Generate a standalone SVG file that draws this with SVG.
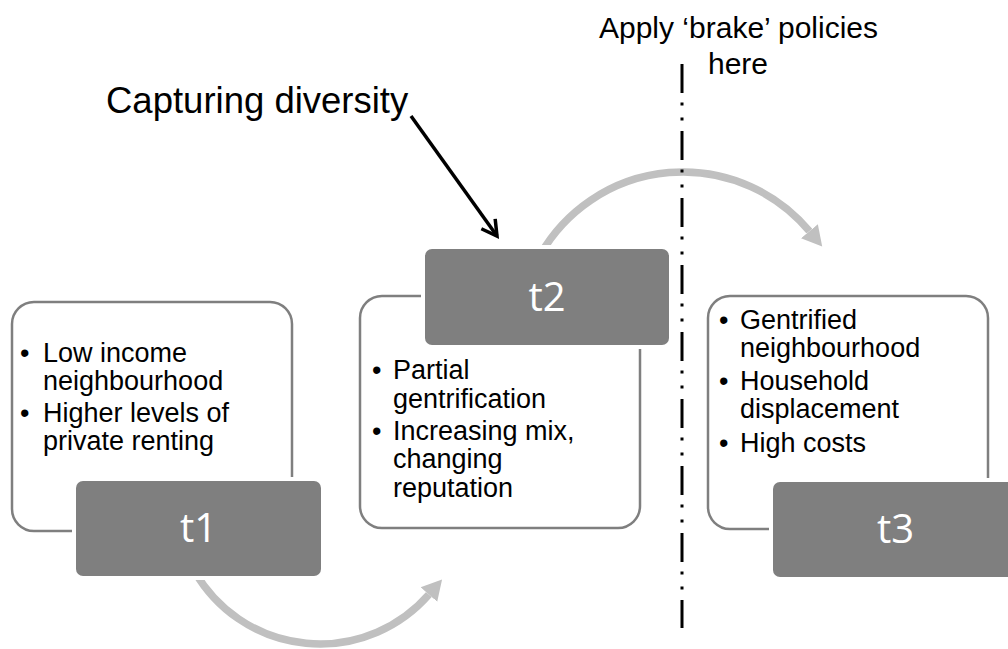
<svg xmlns="http://www.w3.org/2000/svg" width="1008" height="649" viewBox="0 0 1008 649">
<style>
.frame{fill:#fff;stroke:#7f7f7f;stroke-width:2.5}
.tbox{fill:#7f7f7f;stroke:#fff;stroke-width:8;paint-order:stroke}
.lbl{font-family:"Open Sans","Liberation Sans",sans-serif;font-size:40px;fill:#fff;text-anchor:middle}
.txt{font-family:"Liberation Sans",Arial,sans-serif;font-size:27px;fill:#000}
.big{font-family:"Liberation Sans",Arial,sans-serif;font-size:36.5px;fill:#000}
.mid{font-family:"Liberation Sans",Arial,sans-serif;font-size:30px;fill:#000;text-anchor:middle}
.arc{fill:none;stroke:#c0c0c0;stroke-width:7.5}
</style>
<defs>
<marker id="grayHead" markerUnits="userSpaceOnUse" viewBox="0 -12 22 24" refX="0" refY="0" markerWidth="22" markerHeight="24" orient="auto">
<path d="M0,-11 L20,0 L0,11 Z" fill="#c0c0c0"/>
</marker>
<marker id="blackHead" markerUnits="userSpaceOnUse" viewBox="-20 -12 24 24" refX="0" refY="0" markerWidth="24" markerHeight="24" orient="auto">
<path d="M-15,-8.5 L0,0 L-15,8.5" fill="none" stroke="#000" stroke-width="3.5"/>
</marker>
</defs>

<g id="connectors">
<path class="arc" d="M194.9,571.8 A144.5,144.5 0 0 0 428.9,594.5" marker-end="url(#grayHead)"/>
<path class="arc" d="M540.5,254.3 A164.5,164.5 0 0 1 809.4,231.2" marker-end="url(#grayHead)"/>
<path d="M411,116 L497,236" fill="none" stroke="#000" stroke-width="3.5" marker-end="url(#blackHead)"/>
<line x1="682" y1="64" x2="682" y2="628" stroke="#000" stroke-width="3" stroke-dasharray="29 9.5 3 12 3 10.5"/>
</g>

<g id="t1">
<rect class="frame" x="12" y="302" width="280" height="229" rx="22"/>
<text class="txt" x="20" y="362">•</text>
<text class="txt" x="43" y="362">Low income</text>
<text class="txt" x="43" y="390">neighbourhood</text>
<text class="txt" x="20" y="422">•</text>
<text class="txt" x="43" y="422">Higher levels of</text>
<text class="txt" x="43" y="450">private renting</text>
<rect class="tbox" x="76" y="481" width="245" height="95" rx="7"/>
<text class="lbl" x="198.5" y="542">t1</text>
</g>

<g id="t2">
<rect class="frame" x="360" y="296" width="280" height="232" rx="22"/>
<rect class="tbox" x="425" y="249" width="244" height="96" rx="7"/>
<text class="lbl" x="547" y="311">t2</text>
<text class="txt" x="372" y="379">•</text>
<text class="txt" x="393" y="379">Partial</text>
<text class="txt" x="393" y="408">gentrification</text>
<text class="txt" x="372" y="440">•</text>
<text class="txt" x="393" y="440">Increasing mix,</text>
<text class="txt" x="393" y="468">changing</text>
<text class="txt" x="393" y="497">reputation</text>
</g>

<g id="t3">
<rect class="frame" x="708" y="296" width="280" height="233" rx="22"/>
<text class="txt" x="719" y="329">•</text>
<text class="txt" x="740" y="329">Gentrified</text>
<text class="txt" x="740" y="357">neighbourhood</text>
<text class="txt" x="719" y="390">•</text>
<text class="txt" x="740" y="390">Household</text>
<text class="txt" x="740" y="418">displacement</text>
<text class="txt" x="719" y="452">•</text>
<text class="txt" x="740" y="452">High costs</text>
<rect class="tbox" x="773" y="482" width="245" height="95" rx="7"/>
<text class="lbl" x="895.5" y="543">t3</text>
</g>

<g id="capturing">
<text class="big" x="106" y="113">Capturing diversity</text>
</g>

<g id="brake">
<text class="mid" x="738.5" y="38">Apply ‘brake’ policies</text>
<text class="mid" x="738" y="74">here</text>
</g>
</svg>
